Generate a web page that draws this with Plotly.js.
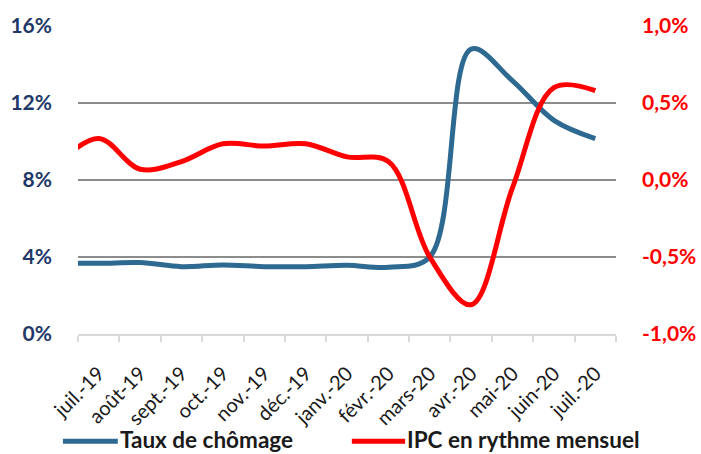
<!DOCTYPE html>
<html>
<head>
<meta charset="utf-8">
<script src="https://cdn.plot.ly/plotly-3.0.1.min.js"></script>
<style>html,body{margin:0;padding:0;background:#fff;}#chart{width:701px;height:454px;}</style>
</head>
<body>
<div id="chart"></div>
<script>
// Categories (the first month sits just outside the visible range, its line segment is clipped at the left edge)
const months = ['juin-19','juil.-19','août-19','sept.-19','oct.-19','nov.-19','déc.-19','janv.-20','févr.-20','mars-20','avr.-20','mai-20','juin-20','juil.-20'];
// Taux de chômage (%), left axis
const chomage = [3.7, 3.67, 3.71, 3.5, 3.59, 3.5, 3.5, 3.57, 3.47, 4.0, 14.8, 13.15, 11.1, 10.15];
// IPC en rythme mensuel (%), right axis
const ipc = [0.1, 0.27, 0.07, 0.12, 0.235, 0.22, 0.235, 0.15, 0.12, -0.5, -0.81, -0.05, 0.6, 0.58];
// Tick labels
const leftTickVals = [0, 4, 8, 12, 16];
const leftTickText = ['0%', '4%', '8%', '12%', '16%'];
const rightTickVals = [-1, -0.5, 0, 0.5, 1];
const rightTickText = ['-1,0%', '-0,5%', '0,0%', '0,5%', '1,0%'];
// Series names and colours
const seriesNames = ['Taux de chômage', 'IPC en rythme mensuel'];
const seriesColors = ['#2D6990', '#FF0000'];

const traces = [
  {
    x: months, y: chomage, name: seriesNames[0], type: 'scatter', mode: 'lines',
    line: {color: seriesColors[0], width: 5, shape: 'spline', smoothing: 1},
    yaxis: 'y', hoverinfo: 'skip'
  },
  {
    x: months, y: ipc, name: seriesNames[1], type: 'scatter', mode: 'lines',
    line: {color: seriesColors[1], width: 5, shape: 'spline', smoothing: 1},
    yaxis: 'y2', hoverinfo: 'skip'
  }
];

// Legend drawn below the chart (sample line + label for each series)
const legendLineY = -0.348;
const legendTextBottom = -0.388;
const legendItems = [
  {x0: -0.028, x1: 0.074, tx: 0.076},
  {x0: 0.509, x1: 0.608, tx: 0.610}
];
const shapes = legendItems.map((it, i) => ({
  type: 'line', xref: 'paper', yref: 'paper', x0: it.x0, x1: it.x1, y0: legendLineY, y1: legendLineY,
  line: {color: seriesColors[i], width: 5}
}));
const annotations = legendItems.map((it, i) => ({
  xref: 'paper', yref: 'paper', x: it.tx, y: legendTextBottom, xanchor: 'left', yanchor: 'bottom',
  text: seriesNames[i], showarrow: false, borderpad: 0,
  font: {size: 22.5, color: '#1A1A1A', family: 'Lato, sans-serif', weight: 'bold'}
}));

const layout = {
  width: 701, height: 454,
  margin: {l: 78, r: 85, t: 26, b: 120, autoexpand: false},
  paper_bgcolor: '#ffffff', plot_bgcolor: '#ffffff',
  font: {family: 'Lato, "Open Sans", sans-serif'},
  showlegend: false,
  shapes: shapes,
  annotations: annotations,
  xaxis: {
    type: 'category', range: [0.5, 13.5],
    tickson: 'boundaries', ticks: 'outside', ticklen: 6, tickwidth: 2, tickcolor: '#D9D9D9',
    showline: true, linecolor: '#D9D9D9', linewidth: 2,
    showgrid: false, zeroline: false,
    tickangle: -45, tickfont: {size: 20, color: '#1A1A1A', family: 'Lato, sans-serif'},
    ticklabelstandoff: 18
  },
  yaxis: {
    range: [0, 16], tickvals: leftTickVals, ticktext: leftTickText,
    showgrid: true, gridcolor: '#8C8C8C', gridwidth: 2, zeroline: false, showline: false,
    ticks: '', tickfont: {size: 21, color: '#1F3868', family: 'Lato, sans-serif', weight: 'bold'},
    ticklabelstandoff: 25
  },
  yaxis2: {
    overlaying: 'y', side: 'right', range: [-1, 1],
    tickvals: rightTickVals, ticktext: rightTickText,
    showgrid: false, zeroline: false, showline: false, ticks: '',
    tickfont: {size: 21, color: '#FF0000', family: 'Lato, sans-serif', weight: 'bold'},
    ticklabelstandoff: 25
  }
};

Plotly.newPlot('chart', traces, layout, {displayModeBar: false, staticPlot: true});
</script>
</body>
</html>
